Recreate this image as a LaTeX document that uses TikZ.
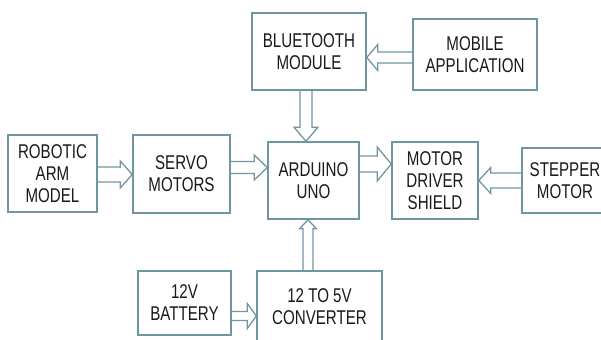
\documentclass[tikz,border=0pt]{standalone}
\usepackage{fontspec}
\newfontfamily\blockfont[FakeStretch=0.76]{Liberation Sans}
\usetikzlibrary{calc}
\definecolor{boxline}{RGB}{112,150,162}
\definecolor{boxtext}{RGB}{25,25,25}

\begin{document}
\begin{tikzpicture}[
  x=0.3mm,
  y=-0.3mm,
  every node/.style={font=\blockfont\fontsize{17}{18.8}\selectfont, text=boxtext},
  block/.style={draw=boxline, line width=1.3pt, align=center, inner sep=0pt},
  hollow/.style n args={3}{draw=boxline, line width=1.1pt, line join=miter,
    to path={
      ($(\tikztotarget)!#3!(\tikztostart)$) coordinate (hb)
      ($(\tikztostart)!#1!90:(\tikztotarget)$)
      -- ($(hb)!#1!-90:(\tikztostart)$)
      -- ($(hb)!#2!-90:(\tikztostart)$)
      -- (\tikztotarget)
      -- ($(hb)!#2!90:(\tikztostart)$)
      -- ($(hb)!#1!90:(\tikztostart)$)
      -- ($(\tikztostart)!#1!-90:(\tikztotarget)$)
    }}
]
  \clip (0,0) rectangle (601,339);

  \node[block, minimum width=34.2mm, minimum height=23.1mm] (bt) at (309,51.5) {BLUETOOTH\\MODULE};
  \node[block, minimum width=37.2mm, minimum height=21.3mm] (mob) at (475,54.5) {MOBILE\\APPLICATION};

  \node[block, minimum width=26.7mm, minimum height=23.1mm] (arm) at (52.5,173.5) {ROBOTIC\\ARM\\MODEL};
  \node[block, minimum width=29.1mm, minimum height=23.4mm] (servo) at (181.5,174) {SERVO\\MOTORS};
  \node[block, minimum width=27.3mm, minimum height=23.1mm] (ard) at (313.5,180.5) {ARDUINO\\UNO};
  \node[block, minimum width=25.8mm, minimum height=23.1mm] (drv) at (435,180.5) {MOTOR\\DRIVER\\SHIELD};
  \node[block, minimum width=25.8mm, minimum height=19.5mm] (step) at (565,180.5) {STEPPER\\MOTOR};

  \node[block, minimum width=27.9mm, minimum height=19.2mm] (bat) at (184.5,303) {12V\\BATTERY};
  \node[block, minimum width=37.5mm, minimum height=21.6mm] (conv) at (319.5,307) {12 TO 5V\\CONVERTER};

  \draw[hollow={1.65mm}{3.9mm}{3.3mm}] ($(mob.west)+(0,3)$) to ($(bt.east)+(0,6)$);
  \draw[hollow={1.8mm}{3.6mm}{4.2mm}] ($(bt.south)+(-3,0)$) to ($(ard.north)+(-7.5,0)$);
  \draw[hollow={2.25mm}{4.05mm}{3.6mm}] ($(arm.east)+(0,1)$) to ($(servo.west)+(0,0.5)$);
  \draw[hollow={1.8mm}{3.75mm}{3.9mm}] ($(servo.east)+(0,-6.5)$) to ($(ard.west)+(0,-13)$);
  \draw[hollow={2.4mm}{5.1mm}{4.2mm}] ($(ard.east)+(0,-16.5)$) to ($(drv.west)+(0,-16.5)$);
  \draw[hollow={2.25mm}{3.9mm}{3.6mm}] (step.west) to (drv.east);
  \draw[hollow={1.35mm}{3.75mm}{2.7mm}] ($(bat.east)+(0,13)$) to ($(conv.west)+(0,9)$);
  \draw[hollow={1.5mm}{2.55mm}{2.7mm}] ($(conv.north)+(-11.5,0)$) to ($(ard.south)+(-5.5,0)$);
\end{tikzpicture}
\end{document}
